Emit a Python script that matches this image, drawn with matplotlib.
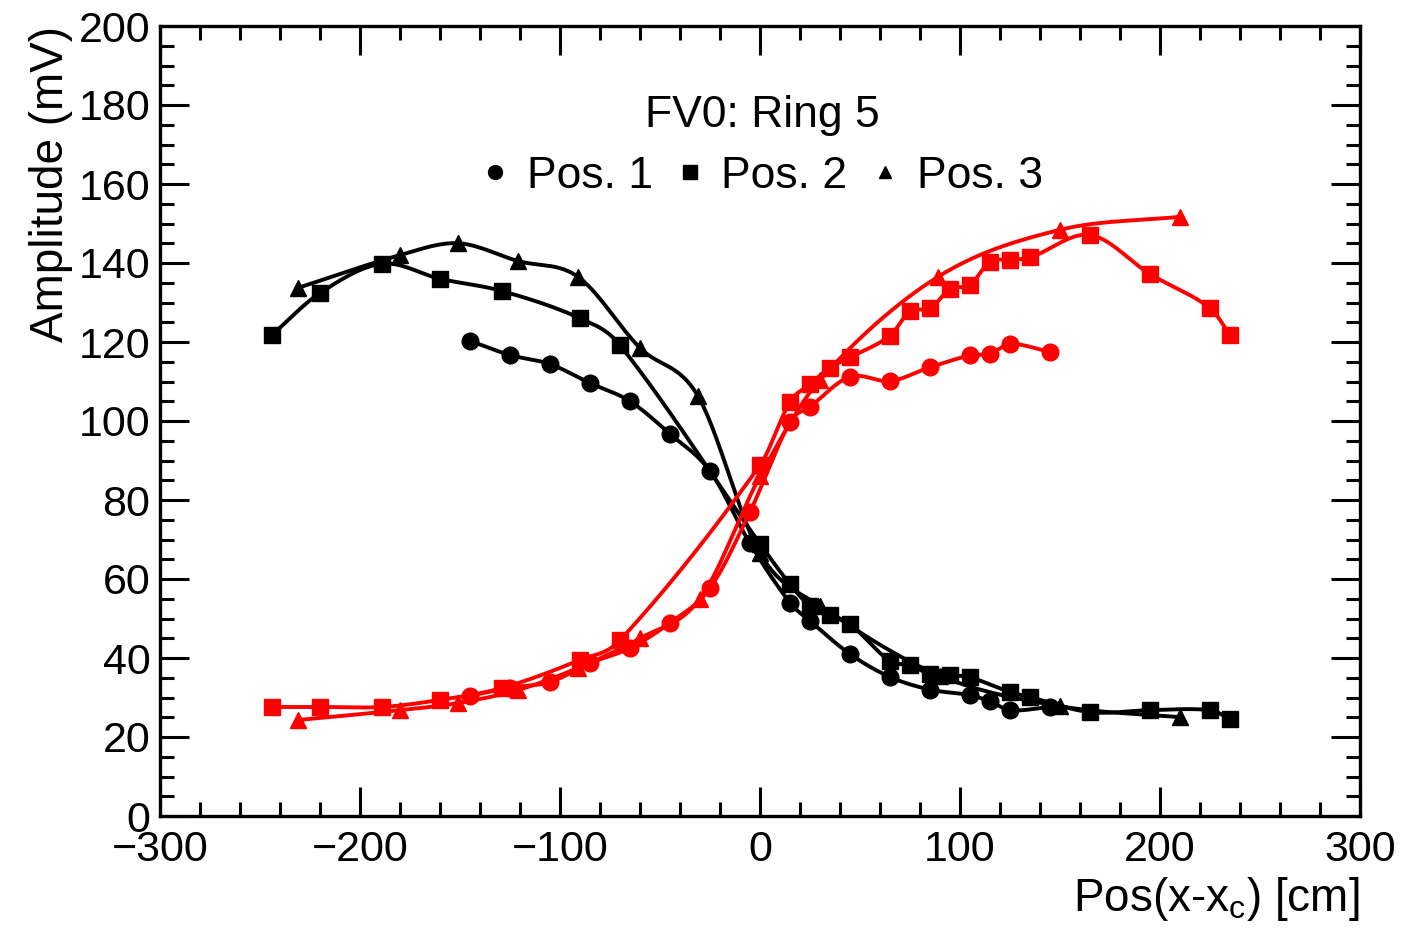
import numpy as np
import matplotlib
matplotlib.use("Agg")
import matplotlib.pyplot as plt
from matplotlib.lines import Line2D

plt.rcParams['font.family'] = ['Liberation Sans', 'DejaVu Sans']

# ---------------- data ----------------
pos1_x = [-145, -125, -105, -85, -65, -45, -25, -5, 15, 25, 45, 65, 85, 105, 115, 125, 145]
pos1_black = [120.3, 116.7, 114.4, 109.6, 105.0, 96.7, 87.3, 69.0, 54.0, 49.4, 41.0, 35.2, 32.0, 30.6, 29.0, 26.8, 27.6]
pos1_red = [30.4, 32.5, 33.9, 38.7, 42.5, 48.9, 57.7, 77.0, 99.7, 103.6, 111.2, 110.1, 113.6, 116.6, 117.0, 119.5, 117.5]

pos2_black_x = [-244, -220, -189, -160, -129, -90, -70, 0, 15, 25, 35, 45, 65, 75, 85, 95, 105, 125, 135, 165, 195, 225, 235]
pos2_black = [121.8, 132.4, 139.8, 136.0, 132.9, 126.0, 119.2, 68.9, 58.7, 53.2, 51.0, 48.6, 39.2, 38.2, 35.9, 35.7, 35.1, 31.4, 30.1, 26.3, 26.8, 26.8, 24.6]

pos2_red_x = [-244, -220, -189, -160, -129, -90, -70, 0, 15, 25, 35, 45, 65, 75, 85, 95, 105, 115, 125, 135, 165, 195, 225, 235]
pos2_red = [27.6, 27.6, 27.6, 29.4, 32.4, 39.5, 44.5, 88.8, 104.8, 109.3, 113.5, 116.1, 121.6, 127.8, 128.5, 133.4, 134.5, 140.3, 140.8, 141.4, 147.1, 137.2, 128.6, 121.8]

pos3_black_x = [-231, -180, -151, -121, -91, -60, -31, 0, 30, 90, 150, 210]
pos3_black = [133.7, 142.0, 145.0, 140.5, 136.5, 118.5, 106.3, 66.5, 53.2, 35.5, 27.8, 25.0]

pos3_red_x = [-231, -180, -151, -121, -91, -60, -30, 0, 30, 89, 150, 210]
pos3_red = [24.3, 26.8, 28.6, 31.9, 37.5, 45.0, 55.0, 86.0, 110.4, 136.5, 148.4, 151.7]

legend_labels = ['Pos. 1', 'Pos. 2', 'Pos. 3']
title_text = 'FV0: Ring 5'


def smooth(x, y, n=30):
    """Cubic Hermite (Catmull-Rom style) curve through the points."""
    x = np.asarray(x, float)
    y = np.asarray(y, float)
    m = np.zeros_like(y)
    m[1:-1] = (y[2:] - y[:-2]) / (x[2:] - x[:-2])
    m[0] = (y[1] - y[0]) / (x[1] - x[0])
    m[-1] = (y[-1] - y[-2]) / (x[-1] - x[-2])
    xs, ys = [], []
    for i in range(len(x) - 1):
        h = x[i + 1] - x[i]
        t = np.linspace(0, 1, n, endpoint=False)
        h00 = 2 * t**3 - 3 * t**2 + 1
        h10 = t**3 - 2 * t**2 + t
        h01 = -2 * t**3 + 3 * t**2
        h11 = t**3 - t**2
        xs.append(x[i] + t * h)
        ys.append(h00 * y[i] + h10 * h * m[i] + h01 * y[i + 1] + h11 * h * m[i + 1])
    xs.append([x[-1]])
    ys.append([y[-1]])
    return np.concatenate(xs), np.concatenate(ys)


fig = plt.figure(figsize=(14.06, 9.43), dpi=100)
ax = fig.add_axes([160 / 1406, 1 - 816 / 943, 1200 / 1406, 790 / 943])

lw = 2.8
series = [
    (pos1_x, pos1_black, 'black', 'o', 12),
    (pos2_black_x, pos2_black, 'black', 's', 11.5),
    (pos3_black_x, pos3_black, 'black', '^', 11.5),
    (pos1_x, pos1_red, 'red', 'o', 12),
    (pos2_red_x, pos2_red, 'red', 's', 11.5),
    (pos3_red_x, pos3_red, 'red', '^', 11.5),
]
for xs, ys, c, mk, ms in series:
    sx, sy = smooth(xs, ys)
    ax.plot(sx, sy, color=c, lw=lw, zorder=2)
    ax.plot(xs, ys, ls='none', marker=mk, ms=ms, color=c, mec=c, zorder=3)

ax.set_xlim(-300, 300)
ax.set_ylim(0, 200)
ax.set_xticks(np.arange(-300, 301, 100))
ax.set_xticks(np.arange(-300, 301, 20), minor=True)
ax.set_yticks(np.arange(0, 201, 20))
ax.set_yticks(np.arange(0, 201, 5), minor=True)
ax.tick_params(which='both', direction='in', top=True, right=True, width=2.2, labelsize=31)
ax.tick_params(which='major', length=21)
ax.tick_params(which='minor', length=10)
ax.tick_params(axis='y', pad=7)
ax.tick_params(axis='x', pad=10)
for s in ax.spines.values():
    s.set_linewidth(2.4)

ax.set_ylabel('Amplitude (mV)', fontsize=33, loc='top', labelpad=4)
ax.set_xlabel('Pos(x-x$_{\\mathregular{c}}$) [cm]', fontsize=33, loc='right', labelpad=4)

handles = [Line2D([], [], ls='none', marker=m, color='black', ms=ms)
           for m, ms in zip(['o', 's', '^'], [10, 10, 9])]
leg = ax.legend(handles, legend_labels, ncol=3, title=title_text, frameon=False,
                loc='upper center', bbox_to_anchor=(0.502, 0.963), fontsize=32,
                title_fontsize=32, handlelength=0.6, handletextpad=0.4,
                columnspacing=0.55, labelspacing=0.2)
leg._legend_box.sep = 14

fig.savefig('out.png', dpi=100)
